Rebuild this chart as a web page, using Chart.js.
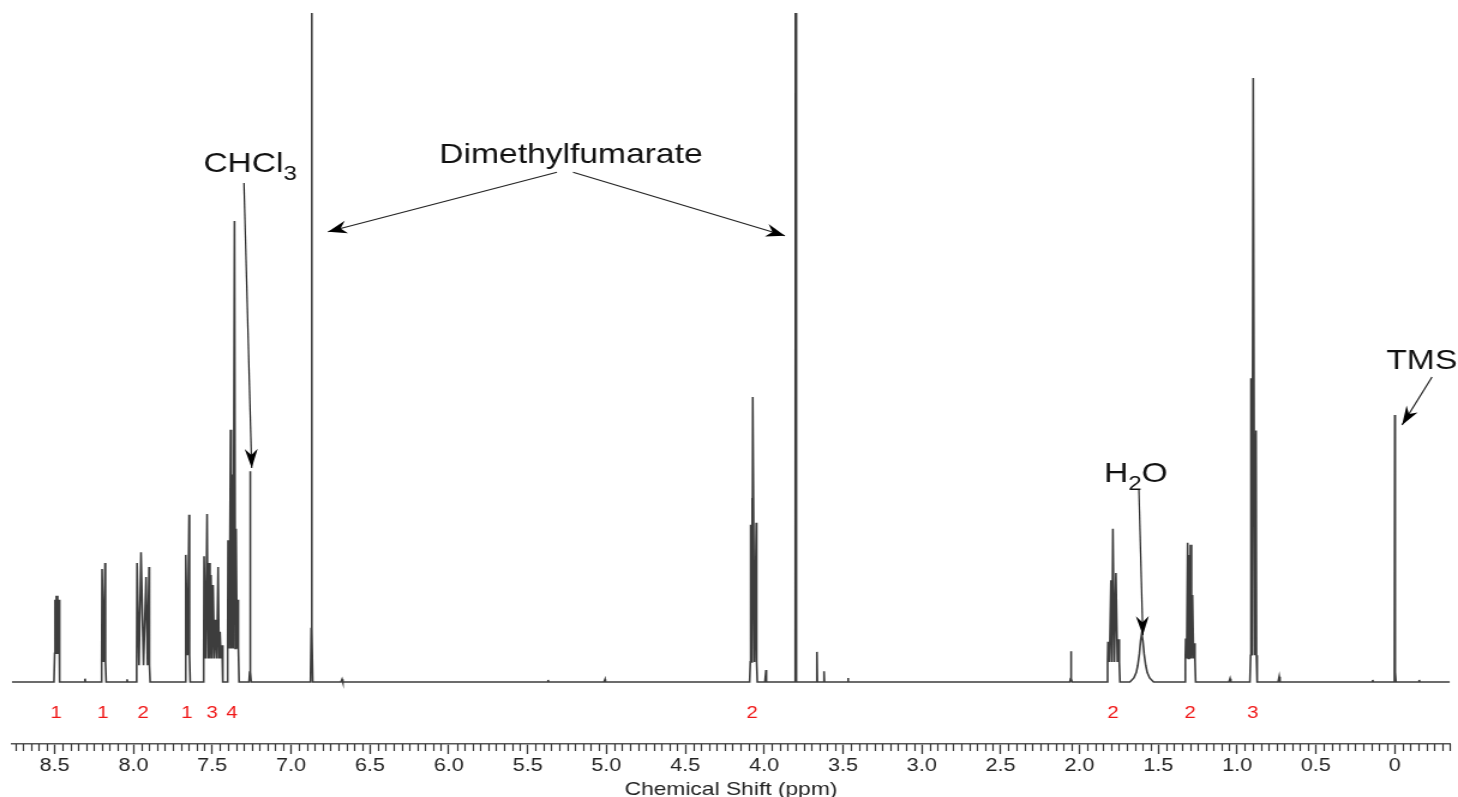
<!DOCTYPE html>
<html>
<head>
<meta charset="utf-8">
<title>1H NMR spectrum</title>
<script src="https://cdn.jsdelivr.net/npm/chart.js@4.4.1/dist/chart.umd.min.js"></script>
<style>
  html, body { margin: 0; padding: 0; background: #fff; overflow: hidden; }
  /* plot is drawn narrower and stretched sideways, like the printed figure */
  #wrap { width: 1215px; height: 801px; transform: scaleX(1.2); transform-origin: 0 0; }
  #spectrum { display: block; }
</style>
</head>
<body>
<div id="wrap"><canvas id="spectrum" width="1215" height="801"></canvas></div>
<script>
const STRETCH = 1.2;

// Chemical shift window (ppm), low field on the left
const shiftMax = 8.77;
const shiftMin = -0.35;
const tickValues = [8.5, 8.0, 7.5, 7.0, 6.5, 6.0, 5.5, 5.0, 4.5, 4.0, 3.5, 3.0, 2.5, 2.0, 1.5, 1.0, 0.5, 0];
const tickLabels = ['8.5', '8.0', '7.5', '7.0', '6.5', '6.0', '5.5', '5.0', '4.5', '4.0', '3.5', '3.0', '2.5', '2.0', '1.5', '1.0', '0.5', '0'];

// Resolved lines of each signal: [shift (ppm), height]
const sig849 = [[8.497, 12.3], [8.489, 12.9], [8.481, 12.9], [8.473, 12.3]];
const sig819 = [[8.199, 16.9], [8.180, 17.8]];
const sig794 = [[7.977, 17.8], [7.952, 19.4], [7.920, 15.7], [7.901, 17.2]];
const sig766 = [[7.667, 19.0], [7.647, 25.0]];
const sig750 = [[7.552, 18.8], [7.533, 25.1], [7.521, 17.8], [7.508, 16.0], [7.495, 14.5],
                [7.479, 9.3], [7.463, 17.2], [7.451, 7.5], [7.438, 5.5]];
const sig737 = [[7.400, 21.2], [7.384, 37.7], [7.375, 31.0], [7.359, 68.9], [7.349, 22.9], [7.337, 12.3]];
const sigCHCl3 = [[7.26, 31.5]];
const sigDmfOlefin = [[6.87, 200]];
const sig407 = [[4.085, 23.5], [4.077, 27.5], [4.072, 42.6], [4.050, 23.8]];
const sigDmfMethyl = [[3.80, 200]];
const sig205 = [[2.054, 4.6]];
const sig179 = [[1.819, 6.0], [1.800, 15.2], [1.788, 22.9], [1.769, 16.3], [1.750, 6.4]];
const sig130 = [[1.326, 6.5], [1.314, 20.8], [1.304, 19.0], [1.296, 20.5], [1.283, 13.0], [1.270, 5.8]];
const sig090 = [[0.912, 45.4], [0.898, 90.3], [0.880, 37.6]];
const sigTMS = [[0.0, 39.9]];
const minorBumps = [[8.307, 0.5], [8.04, 0.4], [6.677, 0.4], [5.37, 0.3], [5.009, 0.4],
                    [3.988, 1.8], [3.665, 4.5], [3.62, 1.6], [3.468, 0.6], [1.045, 0.5],
                    [0.733, 0.8], [0.14, 0.3], [-0.155, 0.3]];

// Broad water line, sampled along its profile
const waterProfile = [[1.68, 0], [1.655, 0.6], [1.64, 1.4], [1.63, 2.5], [1.62, 4.2], [1.612, 6.2],
                      [1.605, 7.3], [1.598, 6.2], [1.59, 4.2], [1.58, 2.5], [1.57, 1.4], [1.555, 0.6], [1.53, 0]];

// Level the trace drops to between neighbouring lines of a signal
const signals = [
  [sig849, 4.3], [sig819, 3.0], [sig794, 2.5], [sig766, 4.0], [sig750, 3.5], [sig737, 5.0],
  [sigCHCl3, 1.5], [sigDmfOlefin, 8.0], [sig407, 3.0], [sigDmfMethyl, 8.0], [sig205, 0.5],
  [sig179, 3.0], [sig130, 3.5], [sig090, 4.0], [sigTMS, 1.5]
].concat(minorBumps.map(b => [[b], 0]));

// Integrals printed under the multiplets
const integralShifts = [8.49, 8.193, 7.939, 7.66, 7.502, 7.375, 4.077, 1.787, 1.299, 0.90];
const integralLabels = ['1', '1', '2', '1', '3', '4', '2', '2', '2', '3'];

// Assignments: text parts ([text, subscript?]), anchor (ppm, height), arrows [fromPpm, fromH, toPpm, toH]
const assignments = [
  { parts: [['CHCl', false], ['3', true]], at: [7.26, 76.2], arrows: [[7.299, 74.6, 7.250, 32.0]] },
  { parts: [['Dimethylfumarate', false]], at: [5.225, 77.6],
    arrows: [[5.314, 76.2, 6.766, 67.3], [5.212, 76.2, 3.868, 66.7]] },
  { parts: [['H', false], ['2', true], ['O', false]], at: [1.642, 29.9], arrows: [[1.623, 28.7, 1.598, 7.0]] },
  { parts: [['TMS', false]], at: [-0.171, 46.8], arrows: [[-0.236, 45.6, -0.046, 38.4]] }
];

function buildTrace() {
  const groups = signals.map(([lines, floor]) => {
    const sorted = lines.slice().sort((a, b) => b[0] - a[0]);
    const pts = [];
    const hi = sorted[0][0], lo = sorted[sorted.length - 1][0];
    pts.push({ x: hi + 0.007, y: 0 }, { x: hi + 0.0025, y: floor });
    sorted.forEach(([p, h], i) => {
      if (i > 0) pts.push({ x: (sorted[i - 1][0] + p) / 2, y: floor });
      pts.push({ x: p, y: h });
    });
    pts.push({ x: lo - 0.0025, y: floor }, { x: lo - 0.007, y: 0 });
    return pts;
  });
  groups.push(waterProfile.map(([p, h]) => ({ x: p, y: h })));
  groups.sort((a, b) => b[0].x - a[0].x);
  const trace = [{ x: shiftMax, y: 0 }];
  groups.forEach(g => trace.push(...g));
  trace.push({ x: shiftMin, y: 0 });
  return trace;
}

const FONT = "'Liberation Sans', Arial, sans-serif";

// Short ticks every 0.05 ppm between the labelled ones
const minorTicks = {
  id: 'minorTicks',
  afterDraw(chart) {
    const xs = chart.scales.x;
    const ctx = chart.ctx;
    ctx.save();
    ctx.strokeStyle = '#333';
    ctx.lineWidth = 1.2;
    ctx.beginPath();
    for (let i = 0; ; i++) {
      const v = 8.75 - i * 0.05;
      if (v < shiftMin) break;
      if (Math.abs(v * 2 - Math.round(v * 2)) < 1e-6) continue;
      const px = Math.round(xs.getPixelForValue(v)) + 0.5;
      ctx.moveTo(px, xs.top);
      ctx.lineTo(px, xs.top + 7);
    }
    ctx.stroke();
    ctx.restore();
  }
};

function drawArrow(ctx, x0, y0, x1, y1) {
  ctx.beginPath();
  ctx.moveTo(x0, y0);
  ctx.lineTo(x1, y1);
  ctx.stroke();
  // head geometry worked out in on-screen units, then squeezed back
  const dx = (x1 - x0) * STRETCH, dy = y1 - y0;
  const len = Math.hypot(dx, dy);
  const ux = dx / len, uy = dy / len;
  const L = 19, W = 6.5, N = 13;
  const bx = -ux * L, by = -uy * L;
  const pts = [
    [0, 0],
    [bx - uy * W, by + ux * W],
    [-ux * N, -uy * N],
    [bx + uy * W, by - ux * W]
  ];
  ctx.beginPath();
  pts.forEach(([px, py], i) => {
    const X = x1 + px / STRETCH, Y = y1 + py;
    if (i === 0) ctx.moveTo(X, Y); else ctx.lineTo(X, Y);
  });
  ctx.closePath();
  ctx.fill();
}

const annotations = {
  id: 'annotations',
  afterDatasetsDraw(chart) {
    const { ctx, scales: { x, y } } = chart;
    ctx.save();

    // integrals
    ctx.fillStyle = '#f01818';
    ctx.font = `17px ${FONT}`;
    ctx.textAlign = 'center';
    ctx.textBaseline = 'middle';
    integralShifts.forEach((s, i) => {
      ctx.fillText(integralLabels[i], x.getPixelForValue(s), y.getPixelForValue(-4.63));
    });

    // assignment labels and arrows
    ctx.strokeStyle = '#222';
    ctx.lineWidth = 1.2;
    ctx.textBaseline = 'alphabetic';
    ctx.textAlign = 'left';
    assignments.forEach(a => {
      const fontFor = sub => sub ? `20px ${FONT}` : `28px ${FONT}`;
      let total = 0;
      a.parts.forEach(([t, sub]) => { ctx.font = fontFor(sub); total += ctx.measureText(t).width; });
      let cx = x.getPixelForValue(a.at[0]) - total / 2;
      const base = y.getPixelForValue(a.at[1]);
      ctx.fillStyle = '#111';
      a.parts.forEach(([t, sub]) => {
        ctx.font = fontFor(sub);
        ctx.fillText(t, cx, sub ? base + 8 : base);
        cx += ctx.measureText(t).width;
      });
      ctx.fillStyle = '#000';
      a.arrows.forEach(([p0, h0, p1, h1]) => {
        drawArrow(ctx, x.getPixelForValue(p0), y.getPixelForValue(h0),
                  x.getPixelForValue(p1), y.getPixelForValue(h1));
      });
    });
    ctx.restore();
  }
};

Chart.defaults.font.family = FONT;

new Chart(document.getElementById('spectrum'), {
  type: 'line',
  data: {
    datasets: [{
      data: buildTrace(),
      borderColor: '#3d3d3d',
      borderWidth: 1.6,
      pointRadius: 0,
      tension: 0,
      fill: false
    }]
  },
  options: {
    responsive: false,
    devicePixelRatio: 1,
    animation: false,
    events: [],
    layout: { padding: { left: 10, right: 6.7, top: 13, bottom: 0 } },
    plugins: { legend: { display: false }, tooltip: { enabled: false } },
    scales: {
      x: {
        type: 'linear',
        reverse: true,
        min: shiftMin,
        max: shiftMax,
        afterBuildTicks: axis => { axis.ticks = tickValues.map(v => ({ value: v })); },
        afterFit: axis => { axis.height = 57; },
        ticks: {
          autoSkip: false,
          maxRotation: 0,
          padding: 1,
          color: '#222',
          font: { size: 18 },
          callback: (v, i) => tickLabels[i]
        },
        grid: { drawOnChartArea: false, drawTicks: true, tickLength: 10, tickColor: '#333', tickWidth: 1.3 },
        border: { display: true, color: '#555', width: 1.5 },
        title: { display: true, text: 'Chemical Shift (ppm)', color: '#222', font: { size: 19 }, padding: 0 }
      },
      y: { display: false, min: -9.27, max: 100 }
    }
  },
  plugins: [minorTicks, annotations]
});
</script>
</body>
</html>
